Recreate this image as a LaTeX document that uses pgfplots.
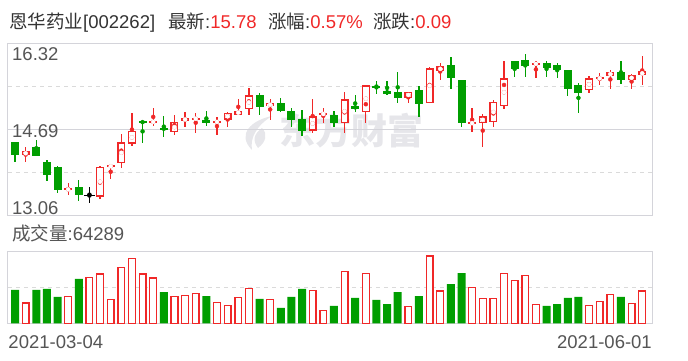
\documentclass[border=0pt]{standalone}
\usepackage{pgfplots}
\pgfplotsset{compat=1.18}
\usepackage{pgfplotstable}
\usepackage{fontspec}
\setmainfont{Liberation Sans}
\newfontfamily\cjk{Noto Sans CJK SC}
\definecolor{cR}{HTML}{F02828}
\definecolor{cG}{HTML}{009E00}
\definecolor{cBorder}{HTML}{D4D4DA}
\definecolor{cGrid}{HTML}{DADADA}
\definecolor{cText}{HTML}{333333}
\definecolor{cLab}{HTML}{555555}
\definecolor{cWM}{HTML}{E6E6EA}

% candles: index, open, high, low, close
\pgfplotstableread{
i O H L C
1 14.19 14.34 14.07 14.27
5 13.54 13.66 13.44 13.55
8 13.41 13.98 13.37 13.97
9 13.98 14.01 13.75 13.99
10 14.04 14.60 13.96 14.44
11 14.41 14.99 14.37 14.65
13 14.81 15.09 14.75 14.84
15 14.63 14.95 14.58 14.82
16 14.85 15.01 14.73 14.89
17 14.88 15.00 14.62 14.89
19 14.82 14.91 14.58 14.83
20 14.87 15.02 14.72 14.99
21 14.96 15.26 14.96 15.04
22 15.06 15.47 14.96 15.33
24 15.12 15.25 14.87 15.18
28 14.66 15.26 14.61 14.93
29 14.96 15.08 14.80 14.99
31 14.80 15.39 14.62 15.25
33 15.01 15.52 14.80 15.52
37 15.27 15.40 15.18 15.40
39 15.18 15.87 15.18 15.84
40 15.78 15.95 15.61 15.88
43 14.79 15.09 14.64 14.81
44 14.80 14.98 14.34 14.93
45 14.82 15.24 14.73 15.20
46 15.12 15.98 15.07 15.65
49 15.90 15.98 15.66 15.95
54 15.42 15.69 15.38 15.65
55 15.64 15.75 15.53 15.66
56 15.69 15.81 15.45 15.77
58 15.61 15.73 15.45 15.71
59 15.71 16.07 15.53 15.78
}\redT

\pgfplotstableread{
i O H L C
0 14.44 14.44 14.07 14.20
2 14.35 14.48 14.17 14.17
3 14.06 14.10 13.71 13.82
4 13.97 13.99 13.48 13.54
6 13.59 13.72 13.33 13.43
12 14.84 14.86 14.43 14.80
14 14.70 14.94 14.53 14.69
18 14.87 15.03 14.75 14.81
23 15.33 15.38 14.96 15.11
25 15.18 15.28 15.01 15.04
26 15.03 15.09 14.72 14.87
27 14.88 15.05 14.55 14.66
30 14.96 15.04 14.73 14.80
32 15.13 15.33 15.02 15.07
34 15.50 15.60 15.36 15.49
35 15.41 15.60 15.34 15.36
36 15.39 15.77 15.19 15.28
38 15.42 15.50 14.92 15.17
41 15.90 16.05 15.45 15.66
42 15.62 15.62 14.73 14.81
47 15.98 15.98 15.68 15.83
48 16.00 16.11 15.68 15.89
50 15.95 15.98 15.68 15.85
51 15.90 15.95 15.66 15.81
52 15.81 15.81 15.32 15.44
53 15.52 15.56 15.00 15.38
57 15.77 15.98 15.55 15.62
}\greenT

\pgfplotstableread{
i O H L C
7 13.43 13.60 13.29 13.43
}\blackT

% volumes
\pgfplotstableread{
i V
1 40400
5 53700
7 91500
8 98100
9 47700
10 111400
11 129200
12 98100
13 90100
15 53700
16 55700
17 59700
19 41800
20 35800
21 51700
22 69600
24 47700
28 65600
29 25800
31 103400
33 99400
37 33800
39 133900
40 64300
43 71600
44 49700
45 49700
46 99400
47 85500
48 95400
49 37800
54 35800
55 43700
56 57700
58 39800
59 64289
}\volR

\pgfplotstableread{
i V
0 66300
2 66300
3 68300
4 52400
6 88200
14 62300
18 54300
23 48400
25 30500
26 52400
27 68300
30 34500
32 50400
34 46400
35 38400
36 62300
38 54300
41 78200
42 100100
50 34500
51 38400
52 50400
53 52400
57 52400
}\volG

\begin{document}
\begin{tikzpicture}
\path[use as bounding box] (0pt,0pt) rectangle (688pt,360pt);
\fontsize{18.5}{20}\selectfont

% watermark
\fill[cWM] (272pt,244pt) .. controls (252pt,240pt) and (236pt,226pt) .. (252pt,210pt)
  .. controls (250pt,222pt) and (256pt,234pt) .. (272pt,244pt) -- cycle;
\fill[cWM] (262pt,232pt) .. controls (254pt,226pt) and (252pt,220pt) .. (258pt,212pt)
  .. controls (266pt,218pt) and (268pt,226pt) .. (262pt,232pt) -- cycle;
\node[text=cWM, font=\cjk\bfseries\fontsize{36}{40}\selectfont] at (351pt,229pt) {东方财富};

% title
\node[anchor=base west, inner sep=0pt, text=cText] at (9pt,331.7pt) {{\cjk 恩华药业}[002262]};
\node[anchor=base west, inner sep=0pt, text=cText] at (168pt,331.7pt) {{\cjk 最新}:\textcolor{cR}{15.78}};
\node[anchor=base west, inner sep=0pt, text=cText] at (268pt,331.7pt) {{\cjk 涨幅}:\textcolor{cR}{0.57\%}};
\node[anchor=base west, inner sep=0pt, text=cText] at (373pt,331.7pt) {{\cjk 涨跌}:\textcolor{cR}{0.09}};

\begin{axis}[
  at={(8pt,145pt)}, anchor=south west, scale only axis,
  width=644pt, height=172pt,
  xmin=-0.66, xmax=59.92, ymin=13.06, ymax=16.32,
  axis line style={draw=cBorder, line width=1pt},
  xtick=\empty, ytick={13.875,15.505}, yticklabels={},
  major tick length=0pt,
  ymajorgrids, grid style={draw=cGrid, dash pattern=on 4pt off 4pt, line width=1pt},
  extra y ticks={14.69}, extra y tick labels={},
  extra y tick style={grid style={solid, draw=cBorder, line width=1pt}},
]
% wicks
\addplot[cR, only marks, mark=none, error bars/.cd, y dir=both, y explicit, error mark=none,
  error bar style={cR, line width=1.3pt}]
  table[x=i, y expr={(\thisrow{H}+\thisrow{L})/2}, y error expr={(\thisrow{H}-\thisrow{L})/2}] {\redT};
\addplot[cG, only marks, mark=none, error bars/.cd, y dir=both, y explicit, error mark=none,
  error bar style={cG, line width=1.3pt}]
  table[x=i, y expr={(\thisrow{H}+\thisrow{L})/2}, y error expr={(\thisrow{H}-\thisrow{L})/2}] {\greenT};
\addplot[black, only marks, mark=none, error bars/.cd, y dir=both, y explicit, error mark=none,
  error bar style={black, line width=1.3pt}]
  table[x=i, y expr={(\thisrow{H}+\thisrow{L})/2}, y error expr={(\thisrow{H}-\thisrow{L})/2}] {\blackT};
% bodies
\addplot[cR, only marks, mark=none, error bars/.cd, y dir=both, y explicit, error mark=none,
  error bar style={cR, line width=8pt, line cap=butt}]
  table[x=i, y expr={(\thisrow{O}+\thisrow{C})/2}, y error expr={max(abs(\thisrow{C}-\thisrow{O})/2,0.019)}] {\redT};
\addplot[white, only marks, mark=none, error bars/.cd, y dir=both, y explicit, error mark=none,
  error bar style={white, line width=5.4pt, line cap=butt}]
  table[x=i, y expr={(\thisrow{O}+\thisrow{C})/2}, y error expr={max(abs(\thisrow{C}-\thisrow{O})/2-0.025,0)}] {\redT};
\addplot[cG, only marks, mark=none, error bars/.cd, y dir=both, y explicit, error mark=none,
  error bar style={cG, line width=8pt, line cap=butt}]
  table[x=i, y expr={(\thisrow{O}+\thisrow{C})/2}, y error expr={max(abs(\thisrow{C}-\thisrow{O})/2,0.019)}] {\greenT};
\addplot[black, only marks, mark=none, error bars/.cd, y dir=both, y explicit, error mark=none,
  error bar style={black, line width=11pt, line cap=butt}]
  table[x=i, y expr={(\thisrow{O}+\thisrow{C})/2}, y error expr={0.012}] {\blackT};
\end{axis}

% price labels
\node[anchor=base west, inner sep=0pt, text=cLab] at (12pt,299.3pt) {16.32};
\node[anchor=base west, inner sep=0pt, text=cLab] at (12pt,222.7pt) {14.69};
\node[anchor=base west, inner sep=0pt, text=cLab] at (12pt,146pt) {13.06};

% volume label
\node[anchor=base west, inner sep=0pt, text=cLab] at (12pt,120pt) {{\cjk 成交量}:64289};

\begin{axis}[
  at={(8pt,36.7pt)}, anchor=south west, scale only axis,
  width=644pt, height=71.6pt,
  xmin=-0.66, xmax=59.92, ymin=0, ymax=142500,
  scaled y ticks=false,
  axis line style={draw=cBorder, line width=1pt},
  xtick=\empty, ytick={71250}, yticklabels={},
  major tick length=0pt,
  ymajorgrids, grid style={draw=cGrid, dash pattern=on 4pt off 4pt, line width=1pt},
  ybar, bar shift=0pt,
]
\addplot[draw=cR, fill=white, line width=1.3pt, bar width=6.8pt] table[x=i, y=V] {\volR};
\addplot[draw=none, fill=cG, bar width=8pt] table[x=i, y=V] {\volG};
\end{axis}

% dates
\node[anchor=base west, inner sep=0pt, text=cLab] at (8.3pt,12pt) {2021-03-04};
\node[anchor=base east, inner sep=0pt, text=cLab] at (652pt,12pt) {2021-06-01};
\end{tikzpicture}
\end{document}
